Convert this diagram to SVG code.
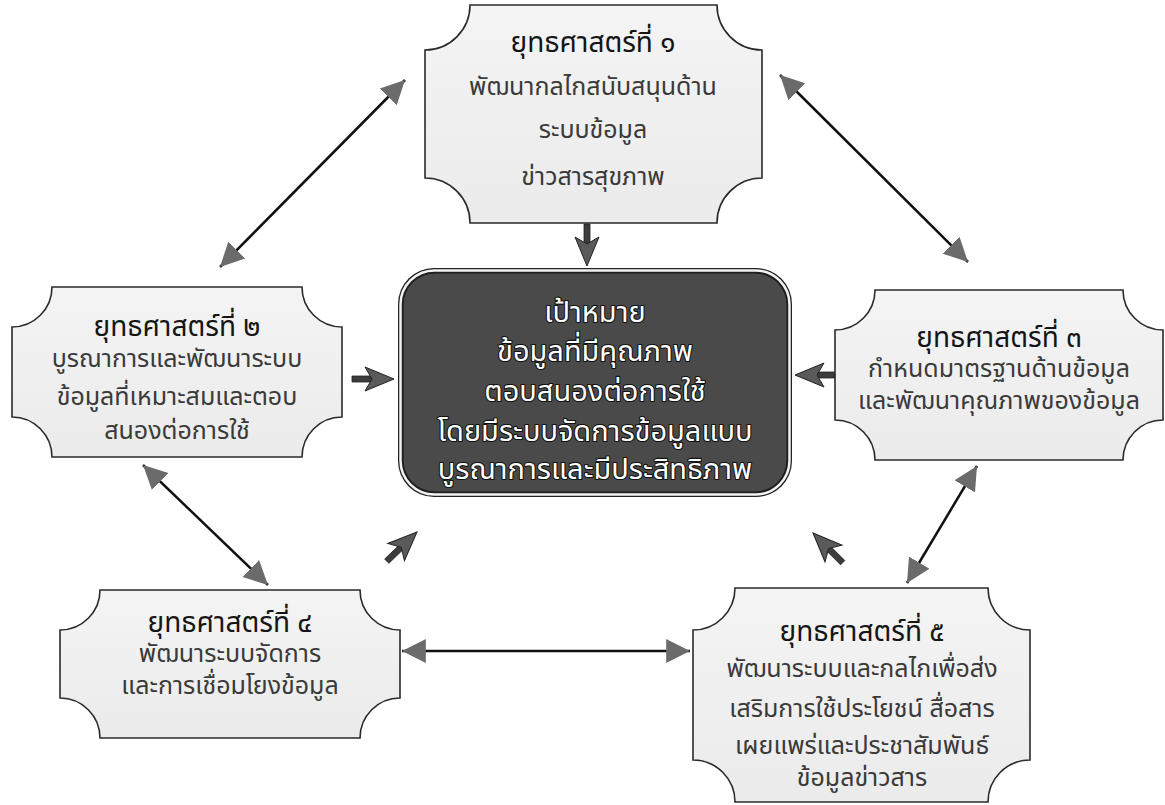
<svg xmlns="http://www.w3.org/2000/svg" width="1165" height="805" viewBox="0 0 1165 805">
<style>
  .box { fill: url(#boxfill); stroke: #2a2a2a; stroke-width: 1.6; }
  .t { font-family: "Noto Sans Thai", "Noto Sans Thai Looped", "Noto Sans", "DejaVu Sans", sans-serif; text-anchor: middle; }
  .title { font-size: 28px; fill: #151515; }
  .body { font-size: 25px; fill: #3a3a3a; }
  .goal { font-size: 29px; fill: #ffffff; stroke: #111; stroke-width: 2.2; paint-order: stroke; stroke-linejoin: round; }
  .conn { stroke: #111; stroke-width: 2.5; fill: none; marker-start: url(#tri); marker-end: url(#tri); }
</style>
<defs>
  <linearGradient id="boxfill" x1="0" y1="0" x2="0" y2="1">
    <stop offset="0" stop-color="#f4f4f4"/>
    <stop offset="1" stop-color="#ebebeb"/>
  </linearGradient>
  <marker id="tri" markerUnits="userSpaceOnUse" markerWidth="26" markerHeight="26" viewBox="0 0 24 24" refX="22" refY="12" orient="auto-start-reverse">
    <path d="M0,1 L22,12 L0,23 Z" fill="#6b6b6b"/>
  </marker>
  <g id="blk">
    <path d="M-42,-3 H-20 V3 H-42 Z" fill="#3c3c3c" stroke="#222" stroke-width="0.8"/>
    <path d="M0,0 L-29,-12 L-22,0 L-29,12 Z" fill="#5a5a5a" stroke="#222" stroke-width="1"/>
  </g>
</defs>
<rect width="1165" height="805" fill="#ffffff"/>

<g id="connectors">
  <line class="conn" x1="405" y1="80" x2="220" y2="267"/>
  <line class="conn" x1="780" y1="75" x2="968" y2="262"/>
  <line class="conn" x1="143" y1="465" x2="268" y2="585"/>
  <line class="conn" x1="977" y1="466" x2="907" y2="583"/>
  <line class="conn" x1="402" y1="651" x2="690" y2="651"/>
  <use href="#blk" transform="translate(587,266) rotate(90)"/>
  <use href="#blk" transform="translate(394,379)"/>
  <use href="#blk" transform="translate(795,375) rotate(180)"/>
  <use href="#blk" transform="translate(417,532) rotate(-44)"/>
  <use href="#blk" transform="translate(813,533) rotate(-135)"/>
</g>

<g id="node1">
  <path class="box" d="M470,5 H717 A45,45 0 0 0 762,50 V178 A45,45 0 0 0 717,223 H470 A45,45 0 0 0 425,178 V50 A45,45 0 0 0 470,5 Z"/>
  <text class="t title" x="593" y="52">ยุทธศาสตร์ที่ ๑</text>
  <text class="t body" x="593" y="95">พัฒนากลไกสนับสนุนด้าน</text>
  <text class="t body" x="593" y="138">ระบบข้อมูล</text>
  <text class="t body" x="593" y="185">ข่าวสารสุขภาพ</text>
</g>

<g id="node2">
  <path class="box" d="M52,287 H302 A40,40 0 0 0 342,327 V417 A40,40 0 0 0 302,457 H52 A40,40 0 0 0 12,417 V327 A40,40 0 0 0 52,287 Z"/>
  <text class="t title" x="177" y="336">ยุทธศาสตร์ที่ ๒</text>
  <text class="t body" x="177" y="367">บูรณาการและพัฒนาระบบ</text>
  <text class="t body" x="177" y="405">ข้อมูลที่เหมาะสมและตอบ</text>
  <text class="t body" x="177" y="439">สนองต่อการใช้</text>
</g>

<g id="node3">
  <path class="box" d="M875,290 H1123 A40,40 0 0 0 1163,330 V420 A40,40 0 0 0 1123,460 H875 A40,40 0 0 0 835,420 V330 A40,40 0 0 0 875,290 Z"/>
  <text class="t title" x="999" y="347">ยุทธศาสตร์ที่ ๓</text>
  <text class="t body" x="999" y="377">กำหนดมาตรฐานด้านข้อมูล</text>
  <text class="t body" x="999" y="409">และพัฒนาคุณภาพของข้อมูล</text>
</g>

<g id="node4">
  <path class="box" d="M100,590 H360 A40,40 0 0 0 400,630 V698 A40,40 0 0 0 360,738 H100 A40,40 0 0 0 60,698 V630 A40,40 0 0 0 100,590 Z"/>
  <text class="t title" x="230" y="632">ยุทธศาสตร์ที่ ๔</text>
  <text class="t body" x="230" y="662">พัฒนาระบบจัดการ</text>
  <text class="t body" x="230" y="694">และการเชื่อมโยงข้อมูล</text>
</g>

<g id="node5">
  <path class="box" d="M735,588 H988 A42,42 0 0 0 1030,630 V760 A42,42 0 0 0 988,802 H735 A42,42 0 0 0 693,760 V630 A42,42 0 0 0 735,588 Z"/>
  <text class="t title" x="862" y="641">ยุทธศาสตร์ที่ ๕</text>
  <text class="t body" x="862" y="677">พัฒนาระบบและกลไกเพื่อส่ง</text>
  <text class="t body" x="862" y="717">เสริมการใช้ประโยชน์ สื่อสาร</text>
  <text class="t body" x="862" y="754">เผยแพร่และประชาสัมพันธ์</text>
  <text class="t body" x="862" y="786">ข้อมูลข่าวสาร</text>
</g>

<g id="goal">
  <rect x="398" y="268" width="394" height="229" rx="36" fill="#222" />
  <rect x="400.5" y="270.5" width="389" height="224" rx="34" fill="none" stroke="#f2f2f2" stroke-width="2.5"/>
  <rect x="403" y="273" width="384" height="219" rx="32" fill="#4a4a4a" stroke="#1a1a1a" stroke-width="1"/>
  <text class="t goal" x="595" y="322">เป้าหมาย</text>
  <text class="t goal" x="595" y="361">ข้อมูลที่มีคุณภาพ</text>
  <text class="t goal" x="595" y="401">ตอบสนองต่อการใช้</text>
  <text class="t goal" x="595" y="441">โดยมีระบบจัดการข้อมูลแบบ</text>
  <text class="t goal" x="595" y="479">บูรณาการและมีประสิทธิภาพ</text>
</g>
</svg>
